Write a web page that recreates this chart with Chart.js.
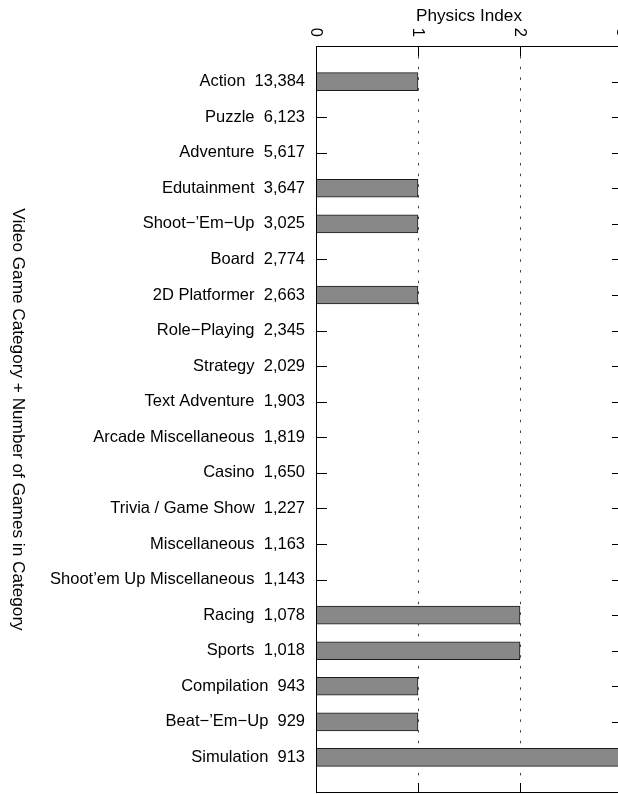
<!DOCTYPE html>
<html><head><meta charset="utf-8">
<script src="https://cdn.jsdelivr.net/npm/chart.js@4/dist/chart.umd.min.js"></script>
<style>
html,body{margin:0;padding:0;overflow:hidden;background:#fff;width:618px;height:794px}
#wrap{position:absolute;left:0;top:0;width:626px;height:794px}
</style>
</head><body><div id="wrap"><canvas id="c" width="626" height="794"></canvas></div>
<script>
const categories = ["Action","Puzzle","Adventure","Edutainment","Shoot\u2212\u2019Em\u2212Up","Board","2D Platformer","Role\u2212Playing","Strategy","Text Adventure","Arcade Miscellaneous","Casino","Trivia / Game Show","Miscellaneous","Shoot\u2019em Up Miscellaneous","Racing","Sports","Compilation","Beat\u2212\u2019Em\u2212Up","Simulation"];
const gameCounts = [13384,6123,5617,3647,3025,2774,2663,2345,2029,1903,1819,1650,1227,1163,1143,1078,1018,943,929,913];
const physicsIndex = [1,0,0,1,1,0,1,0,0,0,0,0,0,0,0,2,2,1,1,3];
const xTickValues = [0,1,2,3];
const xTitle = "Physics Index";
const yTitle = "Video Game Category + Number of Games in Category";

const FONT = '"Liberation Sans", Arial, Helvetica, sans-serif';
const FS = 16.5;
const TFS = 17.2;
const fmt = n => n.toLocaleString('en-US');
const rowLabel = i => categories[i] + '  ' + fmt(gameCounts[i]);

const decor = {
  id: 'decor',
  beforeDatasetsDraw(chart) {
    const {ctx, chartArea: a, scales: {x, y}} = chart;
    ctx.save();
    ctx.strokeStyle = '#444';
    ctx.lineWidth = 1;
    ctx.setLineDash([2.5, 8.2]);
    xTickValues.forEach(v => {
      if (v === 0) return;
      const px = Math.round(x.getPixelForValue(v)) + 0.5;
      ctx.beginPath(); ctx.moveTo(px, a.top + 10); ctx.lineTo(px, a.bottom - 10); ctx.stroke();
    });
    ctx.setLineDash([]);
    ctx.strokeStyle = '#000';
    xTickValues.forEach(v => {
      const px = Math.round(x.getPixelForValue(v)) + 0.5;
      ctx.beginPath();
      ctx.moveTo(px, a.top); ctx.lineTo(px, a.top + 10);
      ctx.moveTo(px, a.bottom); ctx.lineTo(px, a.bottom - 10);
      ctx.stroke();
    });
    categories.forEach((c, i) => {
      const py = Math.round(y.getPixelForValue(i + 1)) + 0.5;
      ctx.beginPath();
      ctx.moveTo(a.left, py); ctx.lineTo(a.left + 11, py);
      ctx.moveTo(a.right, py); ctx.lineTo(a.right - 10, py);
      ctx.stroke();
    });
    ctx.restore();
  },
  afterDatasetsDraw(chart) {
    const {ctx, chartArea: a} = chart;
    ctx.save();
    ctx.strokeStyle = '#000';
    ctx.lineWidth = 1;
    ctx.strokeRect(a.left + 0.5, a.top + 0.5, a.right - a.left - 1, a.bottom - a.top - 1);
    ctx.restore();
  },
  afterDraw(chart) {
    const {ctx, chartArea: a, scales: {x}} = chart;
    ctx.save();
    ctx.fillStyle = '#000';
    ctx.font = FS + 'px ' + FONT;
    xTickValues.forEach(v => {
      const px = x.getPixelForValue(v);
      ctx.save();
      ctx.translate(px, 37);
      ctx.rotate(Math.PI / 2);
      ctx.textAlign = 'right';
      ctx.textBaseline = 'middle';
      ctx.fillText(String(v), 0, 0);
      ctx.restore();
    });
    ctx.font = TFS + 'px ' + FONT;
    ctx.textAlign = 'center';
    ctx.textBaseline = 'alphabetic';
    ctx.fillText(xTitle, (a.left + a.right) / 2, 21);
    ctx.save();
    ctx.translate(18, (a.top + a.bottom) / 2);
    ctx.rotate(Math.PI / 2);
    ctx.textAlign = 'center';
    ctx.textBaseline = 'middle';
    ctx.fillText(yTitle, 0, 0);
    ctx.restore();
    ctx.restore();
  }
};

new Chart(document.getElementById('c'), {
  type: 'bar',
  data: {
    datasets: [{
      data: physicsIndex.map((v, i) => ({x: v, y: i + 1})),
      backgroundColor: '#888888',
      borderColor: '#1a1a1a',
      borderWidth: 1,
      borderSkipped: false,
      barThickness: 18
    }]
  },
  options: {
    indexAxis: 'y',
    responsive: false,
    animation: false,
    devicePixelRatio: 1,
    layout: {padding: {left: 0, right: 4, top: 0, bottom: 1}},
    plugins: {legend: {display: false}, tooltip: {enabled: false}},
    scales: {
      x: {
        type: 'linear', position: 'top', min: 0, max: 3,
        ticks: {display: false, stepSize: 1},
        grid: {display: false, drawTicks: false},
        border: {display: false},
        afterFit: s => { s.height = 46; s.paddingLeft = 0; s.paddingRight = 0; }
      },
      y: {
        type: 'linear', min: 0, max: categories.length + 1, reverse: true, offset: false,
        afterBuildTicks: s => { s.ticks = categories.map((c, i) => ({value: i + 1})); },
        ticks: {
          autoSkip: false,
          padding: 11,
          color: '#000',
          font: {family: FONT, size: FS},
          callback: v => (v >= 1 && v <= categories.length) ? rowLabel(v - 1) : ''
        },
        grid: {display: false, drawTicks: false, offset: false},
        border: {display: false},
        afterFit: s => { s.width = 316; s.paddingTop = 0; s.paddingBottom = 0; }
      }
    }
  },
  plugins: [decor]
});
</script>
</body></html>
